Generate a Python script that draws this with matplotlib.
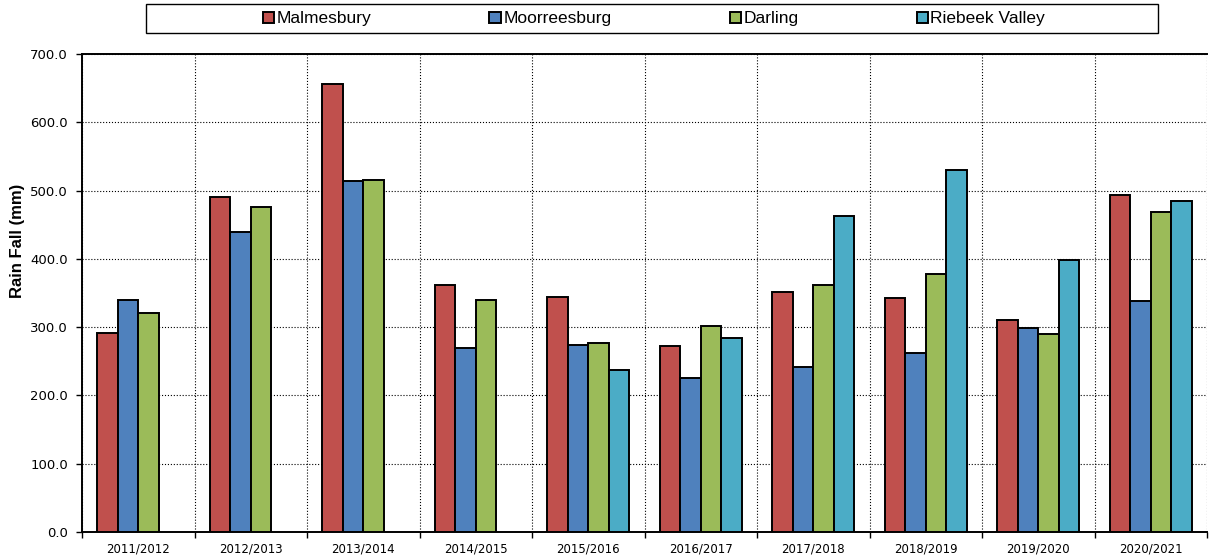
import numpy as np
import matplotlib
matplotlib.use("Agg")
import matplotlib.pyplot as plt
from matplotlib.patches import Rectangle
from matplotlib.ticker import FormatStrFormatter, FixedLocator

plt.rcParams['font.family'] = ['Liberation Sans', 'DejaVu Sans']

seasons = ["2011/2012", "2012/2013", "2013/2014", "2014/2015", "2015/2016",
           "2016/2017", "2017/2018", "2018/2019", "2019/2020", "2020/2021"]
malmesbury = [292, 490, 656, 361, 344, 273, 351, 342, 311, 494]
moorreesburg = [340, 439, 514, 269, 274, 226, 242, 262, 299, 338]
darling = [321, 476, 515, 340, 277, 302, 362, 378, 290, 469]
riebeek = [np.nan, np.nan, np.nan, np.nan, 237, 284, 463, 530, 399, 484]

series = [("Malmesbury", malmesbury, "#C0504D"),
          ("Moorreesburg", moorreesburg, "#4F81BD"),
          ("Darling", darling, "#9BBB59"),
          ("Riebeek Valley", riebeek, "#4BACC6")]

fig = plt.figure(figsize=(12.09, 5.6), dpi=100)
ax = fig.add_axes([82/1209, 1-532/560, (1207-82)/1209, (532-54)/560])

x = np.arange(len(seasons))
w = 0.182
handles = []
for i, (name, vals, col) in enumerate(series):
    b = ax.bar(x + (i - 1.5) * w, vals, width=w, color=col, edgecolor='black',
               linewidth=1.4, label=name, zorder=3)
    handles.append(b)

ax.set_xlim(-0.5, len(seasons) - 0.5)
ax.set_ylim(0, 700)
ax.set_yticks(np.arange(0, 701, 100))
ax.yaxis.set_major_formatter(FormatStrFormatter('%.1f'))
ax.set_xticks(x)
ax.set_xticklabels(seasons, fontsize=8.5, family='DejaVu Sans')
ax.tick_params(axis='x', which='major', length=0, pad=7.5)
ax.xaxis.set_minor_locator(FixedLocator(np.arange(-0.5, len(seasons), 1.0)))
ax.tick_params(axis='x', which='minor', length=4, width=1, direction='out')
ax.tick_params(axis='y', length=4, width=1, direction='out', labelsize=9.5, pad=6)
for lab in ax.get_yticklabels():
    lab.set_family('DejaVu Sans')

ax.grid(True, axis='y', which='major', linestyle=':', color='black', linewidth=0.8, zorder=0)
ax.grid(True, axis='x', which='minor', linestyle=':', color='black', linewidth=0.8, zorder=0)
ax.set_axisbelow(True)

for s in ['left', 'bottom', 'top']:
    ax.spines[s].set_linewidth(1.4)
ax.spines['right'].set_visible(False)

ax.set_ylabel("Rain Fall (mm)", fontsize=12, fontweight='bold')
ax.yaxis.set_label_coords(-0.051, 0.609)

# legend box
fig.patches.append(Rectangle((146/1209, 1-33/560), (1158-146)/1209, 29/560,
                             transform=fig.transFigure, facecolor='white',
                             edgecolor='black', linewidth=1.0))
leg = fig.legend(handles=handles, labels=[s[0] for s in series], loc='center',
                 bbox_to_anchor=(654/1209, 1-19/560), ncol=4, frameon=False,
                 fontsize=12.5, handlelength=0.65, handleheight=0.65,
                 handletextpad=0.15, columnspacing=6.8, borderaxespad=0,
                 borderpad=0)

fig.savefig("out.png", dpi=100)
